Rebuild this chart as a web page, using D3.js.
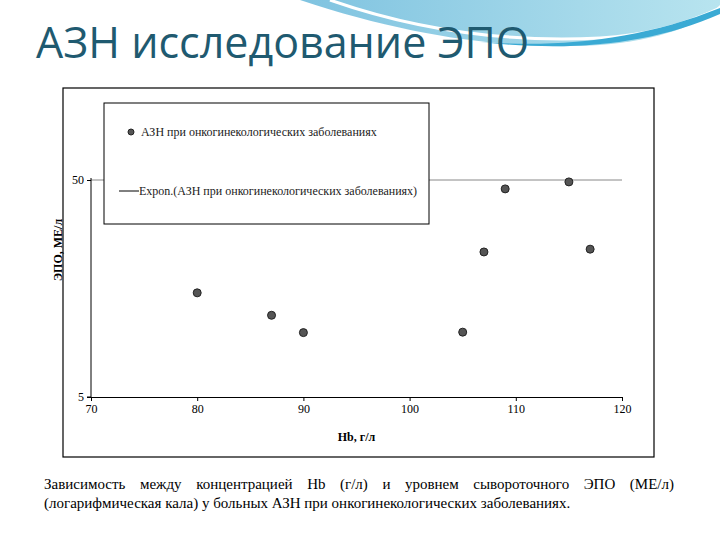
<!DOCTYPE html>
<html><head><meta charset="utf-8">
<script src="https://cdn.jsdelivr.net/npm/d3@7"></script>
<style>body{margin:0;background:#fff}</style></head>
<body><svg id="c" width="720" height="540"></svg>
<script>
const hb = [80, 87, 90, 105, 107, 109, 115, 117];
const epo = [15.1, 11.9, 9.9, 9.95, 23.3, 45.5, 49, 24.0];
const xTicks = [70, 80, 90, 100, 110, 120];
const yTicks = [5, 50];
const svg = d3.select("#c");
const defs = svg.append("defs");
const g1 = defs.append("linearGradient").attr("id","sw").attr("x1","0").attr("x2","1");
g1.append("stop").attr("offset","0").attr("stop-color","#7fc3e0");
g1.append("stop").attr("offset","1").attr("stop-color","#b8e4ef");
svg.append("path").attr("d","M300,0 C420,40 520,50 600,45 C660,40 700,25 720,5 L720,0 Z").attr("fill","url(#sw)");
svg.append("path").attr("d","M330,0 C430,35 520,42 600,38 C650,35 690,22 720,8").attr("fill","none").attr("stroke","#fff").attr("stroke-width",3);
svg.append("path").attr("d","M480,42 C560,48 640,40 720,8 L720,14 C650,45 570,52 480,42 Z").attr("fill","#3aaad4");
svg.append("text").attr("x",36).attr("y",58).attr("font-family","Open Sans, sans-serif").attr("font-size",43).attr("fill","#1f5a70").text("АЗН исследование ЭПО");
svg.append("rect").attr("x",63).attr("y",88).attr("width",591).attr("height",369).attr("fill","#fff").attr("stroke","#000").attr("stroke-width",1.2);
const x = d3.scaleLinear().domain([70,120]).range([91,622]);
const y = d3.scaleLog().domain([5,50]).range([397,180]);
svg.append("line").attr("x1",x(70)).attr("x2",x(120)).attr("y1",y(50)).attr("y2",y(50)).attr("stroke","#888");
const ax = svg.append("g").attr("transform",`translate(0,${y(5)})`).call(d3.axisBottom(x).tickValues(xTicks).tickSize(4).tickFormat(d3.format("d")));
const ay = svg.append("g").attr("transform",`translate(${x(70)},0)`).call(d3.axisLeft(y).tickValues(yTicks).tickSize(4).tickFormat(d3.format("d")));
[ax,ay].forEach(a=>{a.selectAll("text").attr("font-family","Liberation Serif, serif").attr("font-size",12).attr("fill","#000");a.selectAll("line,path").attr("stroke","#000");});
ay.select(".domain").attr("d",`M-4,${y(5)}H0V${178}`);
svg.append("text").attr("x",x(95)).attr("y",441).attr("text-anchor","middle").attr("font-family","Liberation Serif, serif").attr("font-size",12).attr("font-weight","bold").text("Hb, г/л");
svg.append("text").attr("transform","translate(62,250) rotate(-90)").attr("text-anchor","middle").attr("font-family","Liberation Serif, serif").attr("font-size",12).attr("font-weight","bold").text("ЭПО, МЕ/л");
svg.selectAll("circle.p").data(hb).join("circle").attr("class","p").attr("cx",d=>x(d)).attr("cy",(d,i)=>y(epo[i])).attr("r",4).attr("fill","#555").attr("stroke","#222");
svg.append("rect").attr("x",104).attr("y",103).attr("width",325).attr("height",121).attr("fill","#fff").attr("stroke","#000");
svg.append("circle").attr("cx",131).attr("cy",132).attr("r",3).attr("fill","#555").attr("stroke","#222");
svg.append("text").attr("x",141).attr("y",136).attr("font-family","Liberation Serif, serif").attr("font-size",12).attr("fill","#222").text("АЗН при онкогинекологических заболеваниях");
svg.append("line").attr("x1",119).attr("x2",139).attr("y1",191).attr("y2",191).attr("stroke","#000");
svg.append("text").attr("x",139).attr("y",195).attr("font-family","Liberation Serif, serif").attr("font-size",12).attr("fill","#222").text("Expon.(АЗН при онкогинекологических заболеваниях)");
const line1 = "Зависимость между концентрацией Hb (г/л) и уровнем сывороточного ЭПО (МЕ/л)";
const t1 = svg.append("text").attr("x",44).attr("y",489).attr("font-family","Liberation Serif, serif").attr("font-size",15).text(line1);
const w = t1.node().getComputedTextLength();
const gaps = line1.split(" ").length - 1;
t1.attr("word-spacing", (630 - w) / gaps);
svg.append("text").attr("x",44).attr("y",508).attr("font-family","Liberation Serif, serif").attr("font-size",15).text("(логарифмическая кала) у больных АЗН при онкогинекологических заболеваниях.");
</script></body></html>
